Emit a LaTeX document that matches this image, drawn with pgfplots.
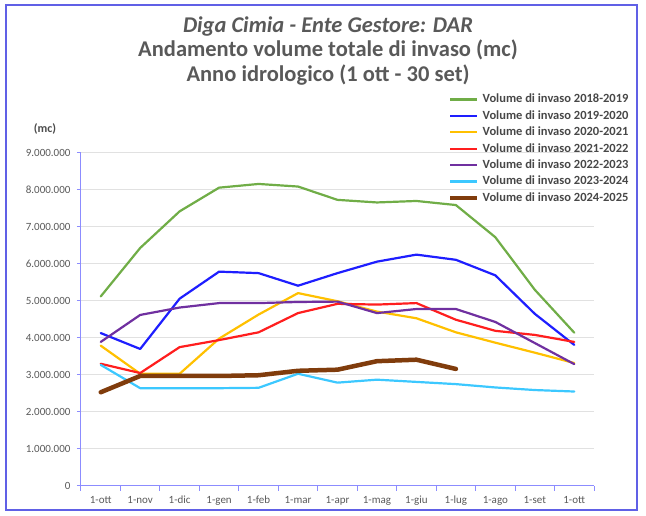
\documentclass[border=0pt]{standalone}
\usepackage{fontspec}
\setmainfont{Carlito}
\usepackage{pgfplots}
\pgfplotsset{compat=1.18}
\definecolor{frameblue}{RGB}{96,96,230}
\definecolor{axblue}{RGB}{140,140,255}
\definecolor{gridgray}{RGB}{225,225,225}
\definecolor{txtgray}{RGB}{89,89,89}
\definecolor{s1819}{RGB}{112,173,71}
\definecolor{s1920}{RGB}{30,30,255}
\definecolor{s2021}{RGB}{255,192,0}
\definecolor{s2122}{RGB}{255,30,30}
\definecolor{s2223}{RGB}{112,48,160}
\definecolor{s2324}{RGB}{60,200,255}
\definecolor{s2425}{RGB}{128,60,12}
\begin{document}
\begin{tikzpicture}[x=1pt,y=1pt]
\path[use as bounding box] (0,0) rectangle (646,515);
\draw[frameblue, line width=1.5pt] (6,5) rectangle (637,510);
% titles
\node[anchor=base, text=txtgray, font=\fontsize{22.5}{26}\selectfont\bfseries\itshape] at (328,482) {Diga Cimia - Ente Gestore: DAR};
\node[anchor=base, text=txtgray, font=\fontsize{22.5}{26}\selectfont\bfseries] at (328,458) {Andamento volume totale di invaso (mc)};
\node[anchor=base, text=txtgray, font=\fontsize{22.5}{26}\selectfont\bfseries] at (328,433) {Anno idrologico (1 ott - 30 set)};
\node[text=txtgray!85!black, font=\fontsize{12}{14}\selectfont\bfseries] at (45,386) {(mc)};
\begin{axis}[
  at={(81pt,29.5pt)}, anchor=south west,
  scale only axis, width=513pt, height=333pt,
  xmin=-0.5, xmax=12.5, ymin=0, ymax=9000000,
  axis x line*=bottom, axis y line*=left,
  axis line style={-, draw=axblue, line width=1pt},
  xtick={0,...,12},
  xticklabels={1-ott,1-nov,1-dic,1-gen,1-feb,1-mar,1-apr,1-mag,1-giu,1-lug,1-ago,1-set,1-ott},
  x tick style={draw=none},
  x tick label style={yshift=-3pt},
  minor xtick={-0.5,0.5,...,12.5},
  minor x tick style={draw=axblue, line width=1pt},
  minor tick length=5pt,
  ytick={0,1000000,...,9000000},
  y tick style={draw=axblue, line width=1pt},
  major tick length=4pt,
  tick align=outside,
  scaled y ticks=false,
  /pgf/number format/assume math mode=true,
  y tick label style={/pgf/number format/fixed, /pgf/number format/1000 sep={.}, xshift=-3pt},
  ticklabel style={font=\fontsize{11}{13}\selectfont, text=txtgray},
  ymajorgrids, grid style={draw=gridgray, line width=0.8pt},
  every axis plot/.append style={line width=2.2pt, line join=round, line cap=round},
  legend style={at={(0.7154,1.175)}, anchor=north west, draw=none, fill=none,
    inner sep=0pt, row sep=6.4pt,
    font=\fontsize{12.5}{14}\selectfont\bfseries,
    nodes={inner sep=0pt, text height=8.5pt, text depth=1.5pt, text=txtgray!80!black},
    /tikz/every odd column/.style={column sep=3pt}},
  legend cell align=left,
  legend image code/.code={\draw[#1,line cap=butt] (0pt,0pt) -- (27pt,0pt);},
]
\addplot[s1819] coordinates {(0,5110000) (1,6420000) (2,7410000) (3,8050000) (4,8150000) (5,8080000) (6,7720000) (7,7650000) (8,7690000) (9,7580000) (10,6710000) (11,5290000) (12,4130000)};
\addplot[s1920] coordinates {(0,4120000) (1,3690000) (2,5050000) (3,5780000) (4,5740000) (5,5400000) (6,5740000) (7,6050000) (8,6240000) (9,6100000) (10,5680000) (11,4640000) (12,3800000)};
\addplot[s2021] coordinates {(0,3780000) (1,3020000) (2,3020000) (3,3970000) (4,4620000) (5,5200000) (6,4980000) (7,4700000) (8,4520000) (9,4140000) (10,3860000) (11,3590000) (12,3310000)};
\addplot[s2122] coordinates {(0,3290000) (1,3040000) (2,3740000) (3,3930000) (4,4140000) (5,4660000) (6,4910000) (7,4890000) (8,4930000) (9,4480000) (10,4180000) (11,4070000) (12,3880000)};
\addplot[s2223] coordinates {(0,3880000) (1,4610000) (2,4810000) (3,4930000) (4,4930000) (5,4960000) (6,4970000) (7,4660000) (8,4770000) (9,4770000) (10,4420000) (11,3850000) (12,3280000)};
\addplot[s2324] coordinates {(0,3260000) (1,2630000) (2,2630000) (3,2630000) (4,2640000) (5,3020000) (6,2780000) (7,2860000) (8,2800000) (9,2740000) (10,2650000) (11,2580000) (12,2540000)};
\addplot[s2425, line width=4.5pt] coordinates {(0,2520000) (1,2960000) (2,2960000) (3,2960000) (4,2980000) (5,3100000) (6,3130000) (7,3360000) (8,3400000) (9,3150000)};
\legend{Volume di invaso 2018-2019, Volume di invaso 2019-2020, Volume di invaso 2020-2021, Volume di invaso 2021-2022, Volume di invaso 2022-2023, Volume di invaso 2023-2024, Volume di invaso 2024-2025}
\end{axis}
\end{tikzpicture}
\end{document}
